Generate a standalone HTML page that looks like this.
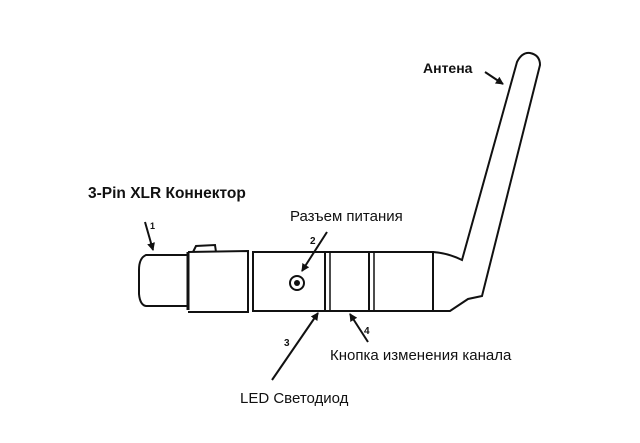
<!DOCTYPE html>
<html><head><meta charset="utf-8"><style>
html,body{margin:0;padding:0;background:#fff;}
svg{display:block}
text{font-family:"Liberation Sans","DejaVu Sans",sans-serif;fill:#111}
</style></head><body>
<svg width="640" height="443" viewBox="0 0 640 443" xmlns="http://www.w3.org/2000/svg">
<defs><marker id="a" markerWidth="8" markerHeight="8" refX="7" refY="4" orient="auto" markerUnits="userSpaceOnUse"><path d="M0,0 L8,4 L0,8 z" fill="#111"/></marker></defs>
<g fill="none" stroke="#111" stroke-width="2">
<path d="M188,255 L146,255 Q139,258 139,270 L139,294 Q140,305 146,306 L188,306"/>
<line x1="188" y1="252" x2="188" y2="310" stroke-width="3"/>
<path d="M188,252 L248,251 L248,312 L188,312"/>
<path d="M193,252 L196,246 L215,245 L216,252"/>
<path d="M253,252 L433,252 L433,311 L253,311 Z"/>
<line x1="325" y1="252" x2="325" y2="311"/>
<line x1="330" y1="252" x2="330" y2="311" stroke-width="1.5"/>
<line x1="369" y1="252" x2="369" y2="311"/>
<line x1="374" y1="252" x2="374" y2="311" stroke-width="1.5"/>
<path d="M433,252 Q448,253 462,260 L517,62 Q522,52 530,53 Q540,55 540,65 L482,296 L468,299 L450,311 L433,311"/>
<circle cx="297" cy="283" r="7"/>
</g>
<circle cx="297" cy="283" r="3" fill="#111"/>
<g stroke="#111" stroke-width="2" fill="none" marker-end="url(#a)">
<line x1="485" y1="72" x2="503" y2="84"/>
<line x1="145" y1="222" x2="153" y2="250"/>
<line x1="327" y1="232" x2="302" y2="271"/>
<line x1="272" y1="380" x2="318" y2="313"/>
<line x1="368" y1="342" x2="350" y2="314"/>
</g>
<text x="423" y="73" font-size="14" font-weight="bold">Антена</text>
<text x="88" y="198" font-size="15.5" font-weight="bold">3-Pin XLR Коннектор</text>
<text x="290" y="221" font-size="15">Разъем питания</text>
<text x="330" y="360" font-size="15">Кнопка изменения канала</text>
<text x="240" y="403" font-size="15">LED Светодиод</text>
<text x="150" y="229" font-size="9" font-weight="bold">1</text>
<text x="310" y="244" font-size="10" font-weight="bold">2</text>
<text x="284" y="346" font-size="10" font-weight="bold">3</text>
<text x="364" y="334" font-size="10" font-weight="bold">4</text>
</svg>
</body></html>
